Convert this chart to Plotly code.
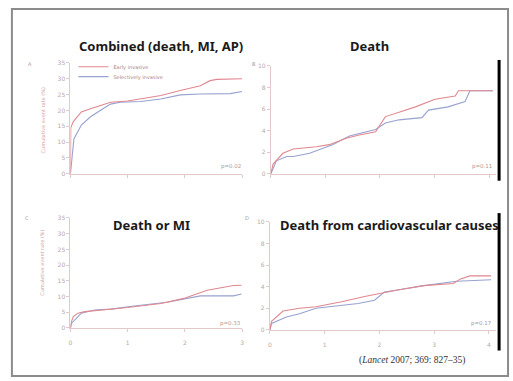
import plotly.graph_objects as go

W, H = 513, 381

# ---- data (years, cumulative event rate %) ----
A_t_red = [0, 0.005, 0.05, 0.19, 0.35, 0.7, 1.0, 1.23, 1.58, 1.92, 2.27, 2.44, 2.56, 3.0]
A_red = [0, 14.5, 16.5, 19.5, 20.5, 22.6, 23.0, 23.6, 24.7, 26.3, 27.8, 29.4, 29.8, 30.0]
A_t_blue = [0, 0.03, 0.06, 0.19, 0.35, 0.52, 0.7, 0.87, 1.23, 1.58, 1.92, 2.27, 2.79, 3.0]
A_blue = [0, 6, 11, 15.4, 18, 20, 22, 22.6, 22.8, 23.6, 24.9, 25.2, 25.3, 26.0]

B_t_red = [0, 0.04, 0.22, 0.41, 0.83, 1.07, 1.38, 1.62, 1.92, 2.1, 2.35, 2.65, 3.01, 3.38, 3.44, 4.07]
B_red = [0, 0.9, 1.9, 2.3, 2.5, 2.7, 3.3, 3.6, 3.9, 5.3, 5.7, 6.2, 6.9, 7.2, 7.7, 7.7]
B_t_blue = [0, 0.1, 0.29, 0.41, 0.71, 1.13, 1.44, 1.92, 2.1, 2.35, 2.77, 2.89, 3.25, 3.56, 3.65, 4.07]
B_blue = [0, 1.2, 1.6, 1.6, 1.9, 2.7, 3.5, 4.1, 4.7, 5.0, 5.2, 5.9, 6.2, 6.7, 7.7, 7.7]

C_t_red = [0, 0.01, 0.05, 0.13, 0.25, 0.54, 1.0, 1.58, 1.98, 2.39, 2.85, 2.99]
C_red = [0, 1.6, 3.6, 4.7, 5.2, 5.7, 6.5, 7.8, 9.4, 12.0, 13.5, 13.6]
C_t_blue = [0, 0.02, 0.19, 0.42, 0.71, 1.11, 1.69, 2.27, 2.39, 2.85, 2.99]
C_blue = [0, 1.5, 4.7, 5.7, 6.0, 7.0, 8.2, 10.2, 10.2, 10.2, 10.8]

D_t_red = [0, 0.03, 0.24, 0.54, 0.84, 1.31, 1.73, 2.03, 2.33, 2.81, 3.35, 3.47, 3.65, 4.04]
D_red = [0, 0.8, 1.75, 2.0, 2.15, 2.6, 3.1, 3.4, 3.7, 4.1, 4.3, 4.7, 5.0, 5.0]
D_t_blue = [0, 0.03, 0.3, 0.54, 0.84, 1.2, 1.61, 1.91, 2.09, 2.33, 2.81, 3.41, 4.04]
D_blue = [0, 0.6, 1.2, 1.5, 2.0, 2.2, 2.45, 2.75, 3.5, 3.7, 4.1, 4.5, 4.65]

series_names = ["Early invasive", "Selectively invasive"]
titles = ["Combined (death, MI, AP)", "Death", "Death or MI", "Death from cardiovascular causes"]
letters = ["A", "B", "C", "D"]
pvals = ["p=0.02", "p=0.11", "p=0.33", "p=0.17"]
y_title = "Cumulative event rate (%)"
citation = "(<i>Lancet</i> 2007; 369: 827–35)"

RED = "#e08890"
BLUE = "#97a2cf"
AXC = "#e3c9c9"
TXT = "#b8a8a8"

def px(x):
    return x / W

def py(y):
    return 1 - y / H

fig = go.Figure()

panels = [
    (A_t_red, A_red, A_t_blue, A_blue, "x", "y"),
    (B_t_red, B_red, B_t_blue, B_blue, "x2", "y2"),
    (C_t_red, C_red, C_t_blue, C_blue, "x3", "y3"),
    (D_t_red, D_red, D_t_blue, D_blue, "x4", "y4"),
]
for i, (tr, r, tb, b, xa, ya) in enumerate(panels):
    fig.add_trace(go.Scatter(x=tb, y=b, mode="lines", name=series_names[1],
                             line=dict(color=BLUE, width=1.1), xaxis=xa, yaxis=ya,
                             showlegend=(i == 0), legend="legend2"))
    fig.add_trace(go.Scatter(x=tr, y=r, mode="lines", name=series_names[0],
                             line=dict(color=RED, width=1.1), xaxis=xa, yaxis=ya,
                             showlegend=(i == 0), legend="legend"))

common_x = dict(showgrid=False, zeroline=False, showline=True, linecolor=AXC, linewidth=1,
                ticks="outside", ticklen=3, tickcolor=AXC, tickfont=dict(size=6, color=TXT),
                ticklabelstandoff=6)
common_y = dict(showgrid=False, zeroline=False, showline=True, linecolor=AXC, linewidth=1,
                ticks="outside", ticklen=3, tickcolor=AXC, tickfont=dict(size=6, color=TXT))

fig.update_layout(
    xaxis=dict(common_x, domain=[px(69), px(242)], range=[0, 3], tickvals=[0, 1, 2, 3],
               showticklabels=False, anchor="y"),
    yaxis=dict(common_y, domain=[py(173), py(60)], range=[0, 35], tickvals=list(range(0, 36, 5)),
               anchor="x"),
    xaxis2=dict(common_x, domain=[px(271), px(498)], range=[0, 4.13], tickvals=[0, 1, 2, 3, 4],
                showticklabels=False, anchor="y2"),
    yaxis2=dict(common_y, domain=[py(173), py(63)], range=[0, 10], tickvals=list(range(0, 11, 2)),
                anchor="x2"),
    xaxis3=dict(common_x, domain=[px(69), px(242)], range=[0, 3], tickvals=[0, 1, 2, 3], anchor="y3"),
    yaxis3=dict(common_y, domain=[py(330), py(218)], range=[0, 35], tickvals=list(range(0, 36, 5)),
                anchor="x3"),
    xaxis4=dict(common_x, domain=[px(270), px(498)], range=[0, 4.13], tickvals=[0, 1, 2, 3, 4],
                anchor="y4"),
    yaxis4=dict(common_y, domain=[py(332), py(222)], range=[0, 10], tickvals=list(range(0, 11, 2)),
                anchor="x4"),
)

ann = []
title_pos = [(160, 43), (370, 43), (151, 225), (391, 225)]
for t, (x, y) in zip(titles, title_pos):
    ann.append(dict(text="<b>" + t + "</b>", x=px(x), y=py(y), xref="paper", yref="paper",
                    showarrow=False, xanchor="center", yanchor="middle",
                    font=dict(family="Noto Sans", size=13, color="#1a1a1a")))
letter_pos = [(28, 61), (254, 61), (25, 218), (247, 218)]
for t, (x, y) in zip(letters, letter_pos):
    ann.append(dict(text=t, x=px(x), y=py(y), xref="paper", yref="paper", showarrow=False,
                    xanchor="center", yanchor="middle", font=dict(size=5, color="#a0a0a0")))
p_pos = [(243, 166), (496, 166), (243, 325), (496, 325)]
for t, (x, y) in zip(pvals, p_pos):
    ann.append(dict(text=t, x=px(x), y=py(y), xref="paper", yref="paper", showarrow=False,
                    xanchor="right", yanchor="middle", font=dict(size=5.5, color="#b09a9a")))
for (x, y) in [(41, 119), (40, 264)]:
    ann.append(dict(text=y_title, x=px(x), y=py(y), xref="paper", yref="paper", showarrow=False,
                    textangle=-90, xanchor="center", yanchor="middle",
                    font=dict(size=5, color="#d0a0a0")))
ann.append(dict(text=citation, x=px(413), y=py(363), xref="paper", yref="paper", showarrow=False,
                xanchor="center", yanchor="middle",
                font=dict(family="Liberation Serif", size=9.5, color="#333333")))

shapes = [
    dict(type="rect", xref="paper", yref="paper", x0=px(10), x1=px(510), y0=py(379), y1=py(5),
         line=dict(color="#8c8c8c", width=2)),
    dict(type="line", xref="paper", yref="paper", x0=px(501), x1=px(501), y0=py(180), y1=py(57),
         line=dict(color="#000000", width=3)),
    dict(type="line", xref="paper", yref="paper", x0=px(501), x1=px(501), y0=py(353), y1=py(213),
         line=dict(color="#000000", width=3)),
]

leg_common = dict(xanchor="left", yanchor="middle", bgcolor="rgba(0,0,0,0)",
                  font=dict(size=5, color="#b08080"), itemwidth=30)
fig.update_layout(
    width=W, height=H, margin=dict(l=0, r=0, t=0, b=0),
    paper_bgcolor="white", plot_bgcolor="white",
    annotations=ann, shapes=shapes,
    showlegend=True,
    legend=dict(leg_common, x=px(72), y=py(64)),
    legend2=dict(leg_common, x=px(72), y=py(74)),
    font=dict(family="DejaVu Sans"),
)

fig.write_html("out.html")
